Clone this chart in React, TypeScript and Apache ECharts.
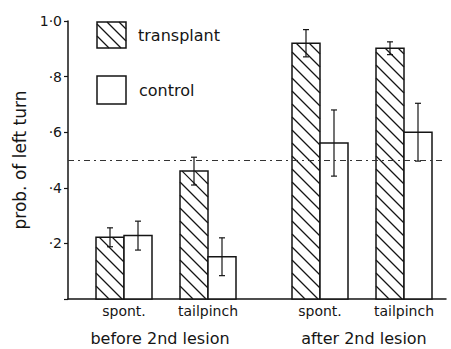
import React, { useEffect, useRef } from "react";
import * as echarts from "echarts";

// ---- data ----
const phases = ["before 2nd lesion", "after 2nd lesion"];
const categories = ["spont.", "tailpinch", "spont.", "tailpinch"];
const categoryPhase = [0, 0, 1, 1];
const transplant = [0.222, 0.46, 0.92, 0.902];
const transplantErr = [0.034, 0.05, 0.049, 0.023];
const control = [0.228, 0.152, 0.561, 0.6];
const controlErr = [0.052, 0.068, 0.119, 0.104];
const chanceLevel = 0.5;
const yTickLabels = ["", "·2", "·4", "·6", "·8", "1·0"];
const seriesNames = ["transplant", "control"];

const FONT = "DejaVu Sans";
const INK = "#151515";

// slot position of each category on the x scale (layout)
const slotOf = (i: number) => 2 + 3 * i + categoryPhase[i];

function hatchLines(x0: number, y0: number, w: number, h: number, step: number, lw = 1.2) {
  const out: any[] = [];
  // lines "\" : y = y0 + (x - x0) + c, anchored at bottom-left corner
  for (let c = h; c > -w; c -= step) {
    const t0 = Math.max(0, -c);
    const t1 = Math.min(w, h - c);
    if (t1 - t0 < 0.5) continue;
    out.push({
      type: "line",
      shape: { x1: x0 + t0, y1: y0 + t0 + c, x2: x0 + t1, y2: y0 + t1 + c },
      style: { stroke: INK, lineWidth: lw },
    });
  }
  return out;
}

function makeRender(kind: number) {
  return (params: any, api: any) => {
    const pos = api.value(0);
    const v = api.value(1);
    const e = api.value(2);
    const [cx, yTop] = api.coord([pos, v]);
    const y0 = api.coord([pos, 0])[1];
    const w = api.size([1, 0])[0];
    const x0 = kind === 0 ? cx - w : cx;
    const h = y0 - yTop;
    const children: any[] = [
      {
        type: "rect",
        shape: { x: x0, y: yTop, width: w, height: h },
        style: { fill: "#fff", stroke: "none" },
      },
    ];
    if (kind === 0) children.push(...hatchLines(x0, yTop, w, h, 13));
    children.push({
      type: "rect",
      shape: { x: x0, y: yTop, width: w, height: h },
      style: { fill: "none", stroke: INK, lineWidth: 1.5 },
    });
    const yHi = api.coord([pos, v + e])[1];
    const yLo = api.coord([pos, v - e])[1];
    const xm = x0 + w / 2;
    children.push(
      { type: "line", shape: { x1: xm, y1: yHi, x2: xm, y2: yLo }, style: { stroke: INK, lineWidth: 1.2 } },
      { type: "line", shape: { x1: xm - 3, y1: yHi, x2: xm + 3, y2: yHi }, style: { stroke: INK, lineWidth: 1.2 } },
      { type: "line", shape: { x1: xm - 3, y1: yLo, x2: xm + 3, y2: yLo }, style: { stroke: INK, lineWidth: 1.2 } }
    );
    return { type: "group", children };
  };
}

export default function App() {
  const ref = useRef<HTMLDivElement>(null);
  useEffect(() => {
    if (!ref.current) return;
    const chart = echarts.init(ref.current, null, { renderer: "svg" });
    const positions = categories.map((_, i) => slotOf(i));
    const tData = transplant.map((v, i) => [positions[i], v, transplantErr[i]]);
    const cData = control.map((v, i) => [positions[i], v, controlErr[i]]);

    const legendBox = { x: 97, w: 29, h: 26 };
    chart.setOption({
      animation: false,
      backgroundColor: "#fff",
      grid: { left: 68, right: 5, top: 21, bottom: 50 },
      xAxis: {
        type: "value",
        min: 0,
        max: 13.5,
        interval: 1,
        axisLine: { show: true, onZero: false, lineStyle: { color: INK, width: 1.5 } },
        axisTick: { show: false },
        splitLine: { show: false },
        axisLabel: {
          color: INK,
          fontFamily: FONT,
          fontSize: 14,
          margin: 5,
          showMinLabel: false,
          showMaxLabel: false,
          formatter: (val: number) => {
            const idx = positions.indexOf(val);
            return idx >= 0 ? categories[idx] : "";
          },
        },
      },
      yAxis: {
        type: "value",
        min: 0,
        max: 1,
        interval: 0.2,
        name: "prob. of left turn",
        nameLocation: "middle",
        nameRotate: 90,
        nameGap: 38,
        nameTextStyle: { color: INK, fontFamily: FONT, fontSize: 17 },
        axisLine: { show: true, lineStyle: { color: INK, width: 1.5 } },
        axisTick: { show: true, length: 4, lineStyle: { color: INK, width: 1.2 } },
        splitLine: { show: false },
        axisLabel: {
          color: INK,
          fontFamily: FONT,
          fontSize: 14,
          margin: 6,
          formatter: (_v: number, i: number) => yTickLabels[i] ?? "",
        },
      },
      series: [
        {
          type: "line",
          data: [],
          z: 1,
          markLine: {
            silent: true,
            symbol: "none",
            label: { show: false },
            lineStyle: { color: "#333", width: 1, type: [6, 4, 2, 4] },
            data: [{ yAxis: chanceLevel }],
          },
        },
        {
          type: "custom",
          name: seriesNames[0],
          z: 3,
          renderItem: makeRender(0),
          encode: { x: 0, y: 1 },
          data: tData,
        },
        {
          type: "custom",
          name: seriesNames[1],
          z: 3,
          renderItem: makeRender(1),
          encode: { x: 0, y: 1 },
          data: cData,
        },
      ],
      graphic: [
        {
          type: "group",
          children: [
            {
              type: "rect",
              shape: { x: legendBox.x, y: 22, width: legendBox.w, height: legendBox.h },
              style: { fill: "#fff", stroke: "none" },
            },
            ...hatchLines(legendBox.x, 22, legendBox.w, legendBox.h, 12),
            {
              type: "rect",
              shape: { x: legendBox.x, y: 22, width: legendBox.w, height: legendBox.h },
              style: { fill: "none", stroke: INK, lineWidth: 1.5 },
            },
            {
              type: "text",
              x: 138,
              y: 35,
              style: { text: seriesNames[0], fill: INK, font: `16px "${FONT}"`, verticalAlign: "middle" },
            },
            {
              type: "rect",
              shape: { x: legendBox.x, y: 76, width: legendBox.w, height: 28 },
              style: { fill: "#fff", stroke: INK, lineWidth: 1.5 },
            },
            {
              type: "text",
              x: 139,
              y: 90,
              style: { text: seriesNames[1], fill: INK, font: `16px "${FONT}"`, verticalAlign: "middle" },
            },
            {
              type: "text",
              x: 160,
              y: 338,
              style: { text: phases[0], fill: INK, font: `16px "${FONT}"`, align: "center", verticalAlign: "middle" },
            },
            {
              type: "text",
              x: 364,
              y: 338,
              style: { text: phases[1], fill: INK, font: `16px "${FONT}"`, align: "center", verticalAlign: "middle" },
            },
          ],
        },
      ],
    });
    return () => chart.dispose();
  }, []);
  return <div ref={ref} style={{ width: 451, height: 349, position: "absolute", left: 0, top: 0 }} />;
}
